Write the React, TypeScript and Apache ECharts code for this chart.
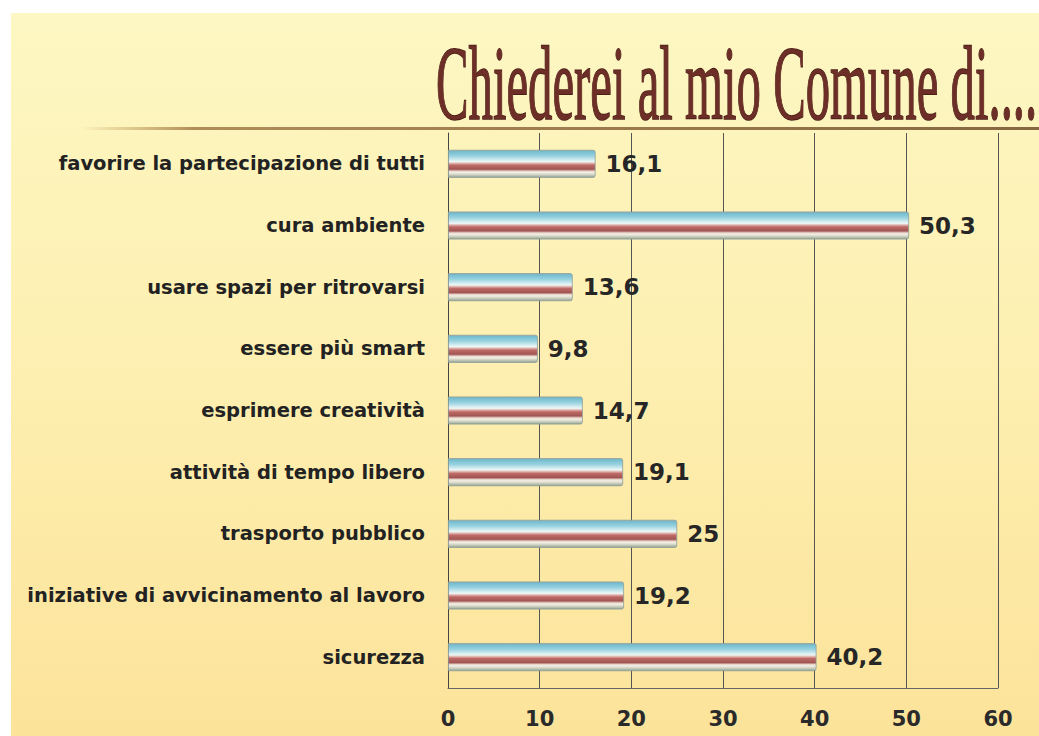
import React, { useEffect, useRef } from 'react';
import * as echarts from 'echarts';

const titleText = 'Chiederei al mio Comune di....';
const categories = [
  'favorire la partecipazione di tutti',
  'cura ambiente',
  'usare spazi per ritrovarsi',
  'essere più smart',
  'esprimere creatività',
  'attività di tempo libero',
  'trasporto pubblico',
  'iniziative di avvicinamento al lavoro',
  'sicurezza',
];
const values = [16.1, 50.3, 13.6, 9.8, 14.7, 19.1, 25, 19.2, 40.2];
const axisMin = 0;
const axisMax = 60;
const axisStep = 10;

export default function App() {
  const ref = useRef<HTMLDivElement>(null);
  useEffect(() => {
    if (!ref.current) return;
    const chart = echarts.init(ref.current, undefined, { renderer: 'svg' });
    const barGradient = new echarts.graphic.LinearGradient(0, 0, 0, 1, [
      { offset: 0, color: '#8fb0ba' },
      { offset: 0.05, color: '#74bdd0' },
      { offset: 0.22, color: '#9ad3e0' },
      { offset: 0.42, color: '#eef8f7' },
      { offset: 0.48, color: '#e0b4ae' },
      { offset: 0.55, color: '#bf6a66' },
      { offset: 0.7, color: '#a05552' },
      { offset: 0.77, color: '#e8d6cc' },
      { offset: 0.82, color: '#f4efe4' },
      { offset: 0.9, color: '#cfd2c2' },
      { offset: 1, color: '#93a293' },
    ]);
    chart.setOption({
      animation: false,
      backgroundColor: '#ffffff',
      graphic: [
        {
          type: 'rect',
          z: -100,
          silent: true,
          shape: { x: 11, y: 13, width: 1028, height: 723 },
          style: {
            fill: new echarts.graphic.LinearGradient(0, 0, 0, 1, [
              { offset: 0, color: '#fdf7c3' },
              { offset: 0.5, color: '#fdefb0' },
              { offset: 1, color: '#fce39a' },
            ]),
          },
        },
        {
          type: 'rect',
          z: 50,
          silent: true,
          shape: { x: 80, y: 127, width: 959, height: 3 },
          style: {
            fill: new echarts.graphic.LinearGradient(0, 0, 1, 0, [
              { offset: 0, color: 'rgba(190,150,80,0)' },
              { offset: 0.12, color: '#b08c58' },
              { offset: 1, color: '#86673f' },
            ]),
          },
        },
        {
          type: 'text',
          z: 100,
          silent: true,
          x: 436,
          y: 136,
          scaleX: 0.46,
          style: {
            text: titleText,
            fontFamily: '"Liberation Serif", serif',
            fontSize: 106,
            fill: '#6c2e26',
            stroke: '#421812',
            lineWidth: 1.5,
            align: 'left',
            verticalAlign: 'bottom',
          },
        },
      ],
      grid: { left: 448, right: 41, top: 133, bottom: 48, containLabel: false },
      xAxis: {
        type: 'value',
        min: axisMin,
        max: axisMax,
        interval: axisStep,
        axisLine: { show: true, lineStyle: { color: '#666', width: 1 } },
        axisTick: { show: false },
        splitLine: { show: true, lineStyle: { color: '#555', width: 1 } },
        axisLabel: {
          margin: 20,
          color: '#2a2a2a',
          fontFamily: '"DejaVu Sans", sans-serif',
          fontWeight: 'bold',
          fontSize: 21,
        },
      },
      yAxis: {
        type: 'category',
        data: categories,
        inverse: true,
        axisLine: { show: true, lineStyle: { color: '#444', width: 1 } },
        axisTick: { show: false },
        splitLine: { show: false },
        axisLabel: {
          margin: 23,
          color: '#222',
          fontFamily: '"DejaVu Sans", sans-serif',
          fontWeight: 'bold',
          fontSize: 19.5,
        },
      },
      series: [
        {
          type: 'bar',
          data: values,
          barWidth: 28,
          itemStyle: {
            color: barGradient,
            borderColor: '#8d9e98',
            borderWidth: 0.8,
            borderRadius: [0, 2, 2, 0],
          },
          label: {
            show: true,
            position: 'right',
            distance: 10,
            formatter: (p: any) => String(p.value).replace('.', ','),
            color: '#262626',
            fontFamily: '"DejaVu Sans", sans-serif',
            fontWeight: 'bold',
            fontSize: 23,
          },
        },
      ],
    });
    return () => chart.dispose();
  }, []);
  return (
    <div
      ref={ref}
      style={{ position: 'absolute', left: 0, top: 0, width: 1039, height: 736 }}
    />
  );
}
